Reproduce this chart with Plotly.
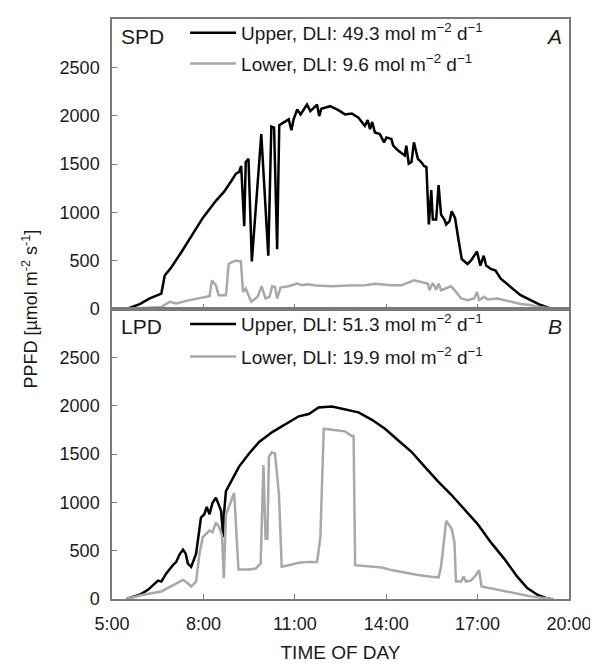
import plotly.graph_objects as go
from plotly.subplots import make_subplots

# Time of day in decimal hours, PPFD in umol m-2 s-1

# Panel A - SPD
spd_upper_t = [5.48, 5.91, 6.24, 6.62, 6.73, 6.95, 7.27, 7.65, 7.98, 8.41, 8.68, 8.90, 9.07,
               9.17, 9.24, 9.34, 9.39, 9.48, 9.59, 9.90, 10.13, 10.23, 10.32, 10.42, 10.49,
               10.80, 10.89, 10.96, 11.08, 11.19, 11.29, 11.40, 11.51, 11.62, 11.73, 11.80,
               11.87, 12.16, 12.43, 12.65, 12.87, 13.09, 13.30, 13.39, 13.47, 13.54, 13.63,
               13.79, 13.93, 14.01, 14.17, 14.23, 14.39, 14.61, 14.66, 14.74, 14.83, 14.91,
               15.04, 15.15, 15.24, 15.32, 15.40, 15.48, 15.53, 15.64, 15.72, 15.80, 15.91,
               15.97, 16.08, 16.15, 16.26, 16.37, 16.48, 16.67, 16.78, 16.98, 17.09, 17.20,
               17.28, 17.43, 17.59, 17.76, 18.09, 18.41, 18.74, 19.07, 19.39, 19.50]
spd_upper = [0, 51, 109, 160, 347, 432, 585, 772, 942, 1119, 1214, 1316, 1401,
             1418, 1479, 857, 1520, 1554, 493, 1809, 551, 1887, 1877, 619, 1901,
             1962, 1850, 1962, 2064, 2013, 2057, 2115, 2047, 2081, 2115, 1996,
             2071, 2098, 2057, 2013, 2023, 1979, 1894, 1955, 1860, 1935, 1826,
             1809, 1724, 1775, 1758, 1690, 1639, 1588, 1690, 1503, 1520, 1724,
             1554, 1520, 1479, 1469, 874, 1231, 925, 925, 1282, 976, 925,
             874, 908, 1010, 942, 721, 517, 466, 500, 595, 449, 551,
             449, 415, 398, 313, 228, 143, 92, 41, 7, 0]

spd_lower_t = [5.48, 6.62, 6.89, 7.11, 7.54, 7.87, 8.20, 8.28, 8.41, 8.50, 8.74, 8.83,
               9.04, 9.23, 9.30, 9.39, 9.57, 9.78, 9.91, 10.04, 10.17, 10.26, 10.35,
               10.42, 10.53, 10.80, 11.08, 11.24, 11.40, 11.68, 12.22, 12.76, 13.30,
               13.63, 14.17, 14.50, 14.91, 15.15, 15.37, 15.42, 15.53, 15.64, 15.72,
               15.80, 16.13, 16.29, 16.46, 16.67, 16.89, 16.98, 17.05, 17.22, 17.33,
               17.65, 18.09, 18.41, 18.74, 19.07, 19.39]
spd_lower = [0, 20, 75, 58, 92, 116, 133, 296, 245, 143, 143, 466,
             500, 493, 177, 211, 75, 126, 235, 109, 126, 235, 228,
             109, 221, 235, 262, 245, 255, 242, 235, 242, 245,
             262, 245, 245, 296, 279, 262, 194, 269, 201, 262,
             194, 235, 177, 109, 92, 109, 177, 92, 126, 99,
             109, 75, 51, 41, 17, 7]

# Panel B - LPD
lpd_upper_t = [5.48, 5.91, 6.18, 6.40, 6.51, 6.62, 6.78, 7.00, 7.11, 7.22, 7.33, 7.42,
               7.49, 7.60, 7.76, 7.92, 8.03, 8.11, 8.20, 8.30, 8.41, 8.50, 8.58, 8.65,
               8.68, 8.74, 8.96, 9.17, 9.50, 9.83, 10.26, 10.70, 11.13, 11.46, 11.78,
               12.22, 12.65, 13.09, 13.52, 13.96, 14.39, 14.83, 15.26, 15.70, 16.13,
               16.57, 17.00, 17.43, 17.87, 18.30, 18.63, 18.96, 19.23, 19.39]
lpd_upper = [0, 44, 95, 163, 190, 180, 265, 350, 384, 462, 510, 469,
             367, 333, 469, 843, 877, 952, 877, 996, 1047, 979, 911, 639,
             900, 1115, 1251, 1370, 1506, 1625, 1727, 1812, 1890, 1914, 1982,
             1992, 1965, 1931, 1856, 1761, 1642, 1523, 1370, 1217, 1081,
             928, 775, 588, 418, 231, 112, 44, 10, 0]

lpd_lower_t = [5.48, 6.02, 6.62, 7.11, 7.33, 7.46, 7.60, 7.76, 7.87, 7.98, 8.09, 8.20,
               8.30, 8.41, 8.52, 8.61, 8.67, 8.74, 8.85, 9.01, 9.15, 9.50, 9.72,
               9.88, 9.97, 10.04, 10.10, 10.15, 10.24, 10.35, 10.48, 10.57, 10.80,
               11.13, 11.46, 11.73, 11.84, 11.95, 12.22, 12.65, 12.87, 12.93, 12.98,
               13.30, 13.85, 14.17, 14.61, 15.04, 15.48, 15.72, 15.80, 15.97, 16.08,
               16.15, 16.24, 16.29, 16.46, 16.54, 16.62, 16.78, 16.95, 17.05, 17.13,
               17.65, 18.30, 18.74, 19.17, 19.50]
lpd_lower = [0, 44, 78, 163, 197, 170, 129, 180, 469, 639, 673, 707,
             690, 792, 741, 656, 214, 877, 962, 1098, 306, 306, 316,
             367, 1387, 622, 622, 1472, 1516, 1506, 1081, 333, 350,
             374, 384, 384, 639, 1761, 1751, 1734, 1686, 1686, 350,
             340, 326, 299, 272, 248, 231, 224, 333, 809, 758,
             724, 588, 180, 180, 231, 180, 190, 248, 299, 129,
             95, 54, 27, 10, 0]

panel_names = ["SPD", "LPD"]
panel_letters = ["A", "B"]
upper_labels = ["Upper, DLI: 49.3 mol m<sup>\u22122</sup> d<sup>\u22121</sup>",
                "Upper, DLI: 51.3 mol m<sup>\u22122</sup> d<sup>\u22121</sup>"]
lower_labels = ["Lower, DLI: 9.6 mol m<sup>\u22122</sup> d<sup>\u22121</sup>",
                "Lower, DLI: 19.9 mol m<sup>\u22122</sup> d<sup>\u22121</sup>"]
x_ticks = [5, 8, 11, 14, 17, 20]
x_tick_text = ["5:00", "8:00", "11:00", "14:00", "17:00", "20:00"]
y_ticks = [0, 500, 1000, 1500, 2000, 2500]

FONT = "Arial, Liberation Sans, sans-serif"
TEXT = "#1a1a1a"
BLACK = "#000000"
GREY = "#a8a8a8"
FRAME = "#7a7a7a"

fig = make_subplots(rows=2, cols=1, shared_xaxes=True, vertical_spacing=0)

series = [(spd_upper_t, spd_upper, spd_lower_t, spd_lower),
          (lpd_upper_t, lpd_upper, lpd_lower_t, lpd_lower)]
for i, (tu, vu, tl, vl) in enumerate(series):
    row = i + 1
    fig.add_trace(go.Scatter(x=tu, y=vu, mode="lines", name=upper_labels[i],
                             line=dict(color=BLACK, width=2.5),
                             legend="legend" if i == 0 else "legend3"), row=row, col=1)
    fig.add_trace(go.Scatter(x=tl, y=vl, mode="lines", name=lower_labels[i],
                             line=dict(color=GREY, width=2.5),
                             legend="legend2" if i == 0 else "legend4"), row=row, col=1)

# one small legend per entry so the rows can be placed like the original
leg_common = dict(xanchor="left", yanchor="middle", bgcolor="rgba(0,0,0,0)",
                  font=dict(family=FONT, size=19, color=TEXT), itemwidth=46,
                  borderwidth=0, x=0.16)
fig.update_layout(
    legend=dict(y=0.976, **leg_common),
    legend2=dict(y=0.923, **leg_common),
    legend3=dict(y=0.474, **leg_common),
    legend4=dict(y=0.418, **leg_common),
)

for i in range(2):
    xref = "x domain" if i == 0 else "x2 domain"
    yref = "y domain" if i == 0 else "y2 domain"
    fig.add_annotation(text=panel_names[i], x=0.015, y=0.985, xref=xref, yref=yref,
                       xanchor="left", yanchor="top", showarrow=False,
                       font=dict(family=FONT, size=21, color=TEXT))
    fig.add_annotation(text="<i>" + panel_letters[i] + "</i>", x=0.99, y=0.985,
                       xref=xref, yref=yref, xanchor="right", yanchor="top",
                       showarrow=False, font=dict(family=FONT, size=21, color=TEXT))

fig.add_annotation(text="PPFD [\u00b5mol m<sup>-2</sup> s<sup>-1</sup>]", textangle=-90,
                   x=-0.21, y=0.5, xref="paper", yref="paper", showarrow=False,
                   font=dict(family=FONT, size=18, color=TEXT))

axis_common = dict(showline=True, mirror=True, linecolor=FRAME, linewidth=1.5,
                   ticks="inside", ticklen=5, tickcolor=FRAME, tickwidth=1.2,
                   showgrid=False, zeroline=False,
                   tickfont=dict(family=FONT, size=18, color=TEXT))
fig.update_xaxes(range=[5, 20], tickvals=x_ticks, ticktext=x_tick_text,
                 ticklabelstandoff=8, **axis_common)
fig.update_xaxes(title=dict(text="TIME OF DAY", font=dict(family=FONT, size=19, color=TEXT),
                            standoff=12), row=2, col=1)
fig.update_yaxes(range=[0, 3000], tickvals=y_ticks, ticklabelstandoff=7, **axis_common)

# the page body adds an 8 px margin, so the figure is 8 px smaller on each side
fig.update_layout(width=590, height=658, margin=dict(l=104, r=26, t=6, b=55),
                  plot_bgcolor="white", paper_bgcolor="white", showlegend=True,
                  font=dict(family=FONT))

fig.write_html("out.html")
